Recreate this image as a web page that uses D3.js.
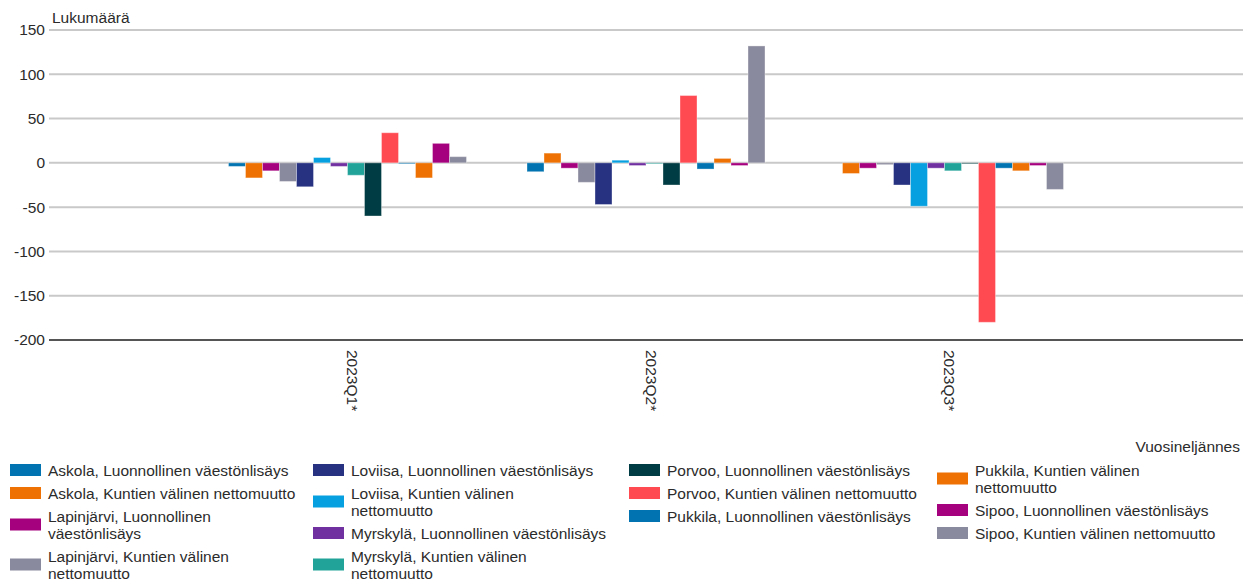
<!DOCTYPE html>
<html>
<head>
<meta charset="utf-8">
<script src="https://d3js.org/d3.v7.min.js"></script>
<style>
    body { margin: 0; background: #fff; }
    svg { display: block; font-family: "Liberation Sans", Arial, sans-serif; }
</style>
</head>
<body>
<div id="chart"></div>
<script>
// Data
const quarters = ["2023Q1*", "2023Q2*", "2023Q3*"];

const seriesNames = [
    "Askola, Luonnollinen väestönlisäys",
    "Askola, Kuntien välinen nettomuutto",
    "Lapinjärvi, Luonnollinen väestönlisäys",
    "Lapinjärvi, Kuntien välinen nettomuutto",
    "Loviisa, Luonnollinen väestönlisäys",
    "Loviisa, Kuntien välinen nettomuutto",
    "Myrskylä, Luonnollinen väestönlisäys",
    "Myrskylä, Kuntien välinen nettomuutto",
    "Porvoo, Luonnollinen väestönlisäys",
    "Porvoo, Kuntien välinen nettomuutto",
    "Pukkila, Luonnollinen väestönlisäys",
    "Pukkila, Kuntien välinen nettomuutto",
    "Sipoo, Luonnollinen väestönlisäys",
    "Sipoo, Kuntien välinen nettomuutto"
];

// legend lines as they wrap in the original
const legendLines = [
    ["Askola, Luonnollinen väestönlisäys"],
    ["Askola, Kuntien välinen nettomuutto"],
    ["Lapinjärvi, Luonnollinen", "väestönlisäys"],
    ["Lapinjärvi, Kuntien välinen", "nettomuutto"],
    ["Loviisa, Luonnollinen väestönlisäys"],
    ["Loviisa, Kuntien välinen", "nettomuutto"],
    ["Myrskylä, Luonnollinen väestönlisäys"],
    ["Myrskylä, Kuntien välinen", "nettomuutto"],
    ["Porvoo, Luonnollinen väestönlisäys"],
    ["Porvoo, Kuntien välinen nettomuutto"],
    ["Pukkila, Luonnollinen väestönlisäys"],
    ["Pukkila, Kuntien välinen", "nettomuutto"],
    ["Sipoo, Luonnollinen väestönlisäys"],
    ["Sipoo, Kuntien välinen nettomuutto"]
];

const seriesColors = [
    "#0073b0", "#ee7203", "#a5007e", "#8a8a9e", "#273281", "#06a0e0", "#7030a0",
    "#22a39a", "#003c43", "#ff4a52", "#0073b0", "#ee7203", "#a5007e", "#8a8a9e"
];

const q1Values = [-4, -17, -9, -21, -27, 6, -4, -14, -60, 34, -1, -17, 22, 7];
const q2Values = [-10, 11, -6, -22, -47, 3, -3, -1, -25, 76, -7, 5, -3, 132];
const q3Values = [0, -12, -6, -2, -25, -49, -6, -9, -1, -180, -6, -9, -3, -30];

const yTicks = [150, 100, 50, 0, -50, -100, -150, -200];

const legendColumns = [[0, 1, 2, 3], [4, 5, 6, 7], [8, 9, 10], [11, 12, 13]];

function drawChart() {
    const width = 1259, height = 585;
    const plot = { left: 49, right: 1243, top: 30, bottom: 340 };
    const textColor = "#2b2b2b";
    const fontSize = "15.5px";

    const svg = d3.select("#chart")
        .append("svg")
        .attr("width", width)
        .attr("height", height);

    const values = [q1Values, q2Values, q3Values];

    const x = d3.scalePoint()
        .domain(quarters)
        .range([plot.left, plot.right])
        .padding(1);

    const xInner = d3.scaleBand()
        .domain(d3.range(seriesNames.length))
        .range([-119, 119]);

    const y = d3.scaleLinear()
        .domain([-200, 150])
        .range([plot.bottom, plot.top]);

    // gridlines
    svg.append("g")
        .selectAll("line")
        .data(yTicks)
        .enter()
        .append("line")
        .attr("x1", plot.left)
        .attr("x2", plot.right)
        .attr("y1", d => y(d))
        .attr("y2", d => y(d))
        .attr("stroke", d => d === -200 ? "#555" : "#c9c9c9")
        .attr("stroke-width", 2);

    // y axis labels (plain hyphen for negatives, like the original)
    const yAxis = d3.axisLeft(y)
        .tickValues(yTicks)
        .tickFormat(d => String(d))
        .tickSize(0)
        .tickPadding(4);
    svg.append("g")
        .attr("transform", `translate(${plot.left},0)`)
        .call(yAxis)
        .call(g => g.select(".domain").remove())
        .selectAll("text")
        .attr("font-size", fontSize)
        .attr("font-family", '"Liberation Sans", Arial, sans-serif')
        .attr("fill", textColor);

    svg.append("text")
        .attr("x", 52)
        .attr("y", 23)
        .attr("font-size", fontSize)
        .attr("fill", textColor)
        .text("Lukumäärä");

    // bars
    const groups = svg.append("g")
        .selectAll("g")
        .data(quarters)
        .enter()
        .append("g")
        .attr("transform", d => `translate(${x(d)},0)`);

    groups.selectAll("rect")
        .data((d, i) => values[i].map((v, j) => ({ v: v, s: j })))
        .enter()
        .append("rect")
        .attr("x", d => xInner(d.s))
        .attr("width", xInner.bandwidth())
        .attr("y", d => y(Math.max(0, d.v)))
        .attr("height", d => Math.abs(y(d.v) - y(0)))
        .attr("fill", d => seriesColors[d.s])
        .attr("stroke", "#fff")
        .attr("stroke-opacity", 0.35)
        .attr("stroke-width", 1);

    // category labels, rotated
    svg.append("g")
        .selectAll("text")
        .data(quarters)
        .enter()
        .append("text")
        .attr("transform", d => `translate(${x(d) + 5},350) rotate(90)`)
        .attr("dy", "0.35em")
        .attr("font-size", fontSize)
        .attr("fill", textColor)
        .text(d => d);

    svg.append("text")
        .attr("x", 1240)
        .attr("y", 452)
        .attr("text-anchor", "end")
        .attr("font-size", fontSize)
        .attr("fill", textColor)
        .text("Vuosineljännes");

    // legend, column-major with variable item height
    const colX = [10, 313, 629, 937];
    const legend = svg.append("g").attr("class", "legend");

    legendColumns.forEach((col, ci) => {
        let top = 458.5;
        col.forEach(si => {
            const lines = legendLines[si];
            const h = lines.length > 1 ? 40 : 23;
            const cy = top + h / 2;

            const item = legend.append("g")
                .attr("transform", `translate(${colX[ci]},${cy})`);

            item.append("rect")
                .attr("x", 0)
                .attr("y", -6)
                .attr("width", 31)
                .attr("height", 12)
                .attr("fill", seriesColors[si]);

            item.selectAll("text")
                .data(lines)
                .enter()
                .append("text")
                .attr("x", 38)
                .attr("y", (d, li) => lines.length > 1 ? -3 + li * 17 : 5.5)
                .attr("font-size", fontSize)
                .attr("fill", textColor)
                .text(d => d);

            top += h;
        });
    });
}

drawChart();
</script>
</body>
</html>
